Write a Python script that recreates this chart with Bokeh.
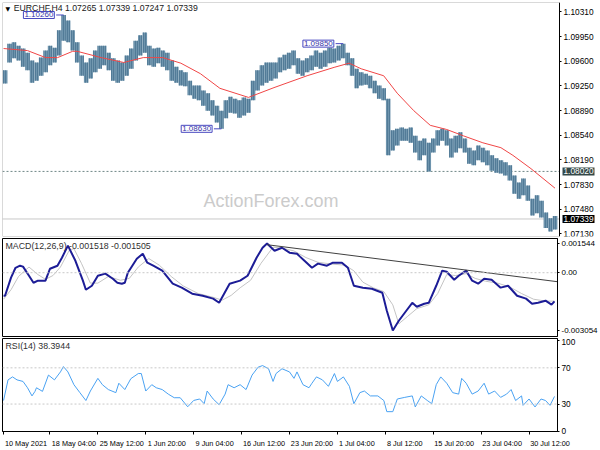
from bokeh.plotting import figure
from bokeh.models import Range1d, FixedTicker, Span, Label, BoxAnnotation
from bokeh.layouts import column
from bokeh.embed import file_html
from bokeh.resources import INLINE

FONT = "Liberation Sans"

# ---------------- data ----------------
# H4 price bars, each entry = high / low of 3 consecutive H4 bars
highs = [1.0947, 1.0985, 1.0987, 1.0982, 1.0978, 1.0972, 1.0961, 1.0958, 1.0965, 1.0975,
         1.0982, 1.0979, 1.1004, 1.1026, 1.1018, 1.1004, 1.0987, 1.0968, 1.0958, 1.0964,
         1.0975, 1.0982, 1.0982, 1.0972, 1.0964, 1.0961, 1.0958, 1.0968, 1.0978, 1.0989,
         1.0997, 1.1001, 1.0982, 1.0978, 1.0979, 1.0975, 1.0972, 1.0961, 1.0952, 1.0947,
         1.0944, 1.0932, 1.0925, 1.0925, 1.0918, 1.0914, 1.0904, 1.0896, 1.0889, 1.0904,
         1.0909, 1.0906, 1.0904, 1.0908, 1.0906, 1.0932, 1.0947, 1.0954, 1.0958, 1.0958,
         1.0958, 1.0965, 1.0969, 1.0972, 1.0975, 1.0964, 1.0961, 1.0964, 1.0968, 1.0975,
         1.0972, 1.0975, 1.0979, 1.0978, 1.0982, 1.0985, 1.0972, 1.0964, 1.0949, 1.0944,
         1.0942, 1.0939, 1.0932, 1.0925, 1.0921, 1.0906, 1.0861, 1.0863, 1.0865, 1.0863,
         1.0865, 1.0853, 1.0846, 1.0849, 1.0843, 1.0849, 1.0861, 1.0863, 1.0861, 1.0849,
         1.0853, 1.0858, 1.0849, 1.0836, 1.0832, 1.0839, 1.0836, 1.0832, 1.0825, 1.0821,
         1.0818, 1.0815, 1.0811, 1.0796, 1.0786, 1.0792, 1.0782, 1.0763, 1.0768, 1.0760,
         1.0743, 1.0735, 1.0738]
lows = [1.0928, 1.0958, 1.0964, 1.0961, 1.0952, 1.0947, 1.0929, 1.0932, 1.0939, 1.0944,
        1.0954, 1.0958, 1.0968, 1.0989, 1.0987, 1.0975, 1.0958, 1.0939, 1.0929, 1.0935,
        1.0944, 1.0949, 1.0954, 1.0947, 1.0932, 1.0929, 1.0932, 1.0939, 1.0949, 1.0961,
        1.0968, 1.0972, 1.0954, 1.0952, 1.0957, 1.0952, 1.0947, 1.0932, 1.0929, 1.0925,
        1.0924, 1.0911, 1.0906, 1.0904, 1.0896, 1.0889, 1.0882, 1.0872, 1.0863, 1.0878,
        1.0886, 1.0885, 1.0879, 1.0882, 1.0886, 1.0904, 1.0918, 1.0925, 1.0929, 1.0932,
        1.0935, 1.0944, 1.0947, 1.0949, 1.0954, 1.0942, 1.0939, 1.0944, 1.0947, 1.0952,
        1.0949, 1.0952, 1.0957, 1.0958, 1.0961, 1.0964, 1.0954, 1.0939, 1.0921, 1.0925,
        1.0926, 1.0921, 1.0914, 1.0906, 1.0904, 1.0825, 1.0832, 1.0839, 1.0846, 1.0846,
        1.0843, 1.0829, 1.0818, 1.0825, 1.0802, 1.0829, 1.0839, 1.0846, 1.0839, 1.0822,
        1.0829, 1.0835, 1.0829, 1.0813, 1.0811, 1.0818, 1.0815, 1.0811, 1.0803, 1.0800,
        1.0799, 1.0796, 1.0789, 1.0770, 1.0763, 1.0768, 1.0760, 1.0739, 1.0742, 1.0736,
        1.0721, 1.0716, 1.0719]
bar_idx = [3 * g + 1 for g in range(len(highs))]

# moving average (red)
ma_idx = [0, 16, 28, 36, 46, 49, 65, 80, 93, 106,
          118, 131, 144, 163, 180, 202, 220, 230, 238, 253,
          262, 273, 284, 295, 306, 319, 331, 339, 351, 367]
ma_val = [1.0978, 1.0975, 1.0965, 1.0965, 1.0974, 1.0974, 1.0965, 1.0958, 1.0965, 1.0965,
          1.0957, 1.0942, 1.0921, 1.0908, 1.0922, 1.0939, 1.0951, 1.0957, 1.0949, 1.0939,
          1.0914, 1.0889, 1.0868, 1.0862, 1.0853, 1.0843, 1.0836, 1.0825, 1.0806, 1.0778]

# MACD(12,26,9)
macd_idx = [0, 1, 5, 8, 11, 13, 17, 20, 23, 28,
            31, 36, 39, 43, 48, 53, 55, 59, 63, 68,
            73, 76, 79, 81, 83, 89, 93, 96, 100, 106,
            113, 119, 126, 133, 140, 144, 151, 158, 163, 169,
            173, 176, 181, 186, 191, 196, 198, 201, 206, 210,
            216, 220, 226, 230, 234, 240, 246, 253, 256, 260,
            264, 269, 273, 276, 281, 284, 289, 293, 296, 301,
            304, 309, 313, 317, 321, 326, 332, 337, 343, 349,
            353, 357, 362, 366, 368]
macd_val = [-0.00122, -0.00122, -0.00026, 0.00026, 0.00037, 0.00032, -0.00016, -0.00053, -0.00042, -0.00042,
            0.00021, 0.00037, 0.00079, 0.00143, 0.00063, -0.00042, -0.00090, -0.00069, -0.00016, -0.00005,
            -0.00032, -0.00053, -0.00058, -0.00053, 0.0, 0.00074, 0.00100, 0.00053, 0.00037, 0.00011,
            -0.00058, -0.00079, -0.00111, -0.00122, -0.00137, -0.00159, -0.00058, -0.00042, -0.00016, 0.00079,
            0.00132, 0.001544, 0.00116, 0.00132, 0.00106, 0.00100, 0.00085, 0.00063, 0.00026, 0.00048,
            0.00037, 0.00053, 0.00053, 0.00026, -0.00069, -0.00079, -0.00085, -0.00106, -0.00201, -0.003054,
            -0.00254, -0.00201, -0.00159, -0.00180, -0.00164, -0.00159, -0.00069, 0.00011, 0.00005, -0.00037,
            -0.00016, 0.00011, -0.00042, -0.00058, -0.00032, -0.00037, -0.00079, -0.00069, -0.00122, -0.00137,
            -0.00164, -0.00159, -0.00148, -0.00169, -0.001518]
sig_idx = [0, 5, 10, 17, 23, 28, 33, 38, 44, 47,
           52, 58, 63, 70, 78, 84, 90, 97, 104, 112,
           120, 130, 140, 146, 152, 158, 165, 172, 180, 186,
           194, 202, 210, 220, 228, 234, 240, 247, 254, 260,
           264, 270, 276, 284, 290, 296, 302, 309, 315, 322,
           330, 338, 346, 354, 362, 368]
sig_val = [-0.0014, -0.0009, -0.0002, 0.0003, -0.0001, -0.00035, -0.00015, 0.0003, 0.0012, 0.00127,
           0.0005, -0.00055, -0.00055, -0.0002, -0.0004, -0.0003, 0.0003, 0.00075, 0.0004, -0.0002,
           -0.0007, -0.0011, -0.0013, -0.00145, -0.0012, -0.0008, -0.0004, 0.0005, 0.00135, 0.0013,
           0.00115, 0.0008, 0.00055, 0.00045, 0.0004, 0.0001, -0.0005, -0.0008, -0.001, -0.0017,
           -0.0027, -0.0023, -0.0019, -0.0017, -0.0011, -0.0001, -0.00015, -0.00005, -0.0003, -0.00045,
           -0.00055, -0.00075, -0.0011, -0.0014, -0.0015, -0.001505]
trend_idx = [176, 370]
trend_val = [0.00148, -0.000476]

# RSI(14)
rsi_idx = [0, 3, 6, 9, 13, 16, 19, 21, 22, 26,
           30, 34, 38, 40, 43, 47, 51, 55, 58, 63,
           66, 70, 75, 77, 81, 85, 90, 92, 95, 99,
           102, 106, 110, 114, 118, 123, 127, 131, 134, 136,
           140, 144, 148, 150, 154, 158, 162, 166, 170, 173,
           177, 180, 182, 186, 191, 194, 196, 200, 204, 206,
           209, 213, 217, 221, 223, 227, 231, 234, 238, 241,
           245, 250, 254, 256, 260, 263, 268, 273, 275, 279,
           283, 286, 289, 292, 296, 300, 304, 306, 309, 313,
           317, 321, 324, 328, 332, 336, 339, 342, 346, 347,
           351, 355, 359, 362, 365, 368]
rsi_val = [33.9, 56.7, 60, 56.7, 55, 48, 39, 44, 48, 44,
           62, 56.7, 65.5, 71.4, 65.5, 51.4, 42.6, 33.9, 44.4, 58.4,
           51.4, 46, 42.6, 53, 46, 58, 63.7, 63.7, 44.4, 51.4,
           48, 46, 41, 37, 37, 27, 34, 35.6, 30.4, 44.4,
           35.6, 29.3, 41, 51.4, 48, 51.4, 46, 62, 70.7, 72.5,
           69, 55, 63.7, 69, 65.5, 58.4, 65.5, 51.4, 48, 53,
           60, 56.7, 49.6, 63.7, 55, 60, 49.6, 30.4, 42.6, 44.4,
           39, 39, 33.9, 21.6, 21.6, 35.6, 37.4, 39, 26.8, 39,
           34, 30.4, 51.4, 60, 53, 42.6, 41, 58.4, 53, 41,
           44.4, 53, 41, 44.4, 37.4, 41, 46, 33.9, 39, 28.6,
           35.6, 26.8, 35.6, 33.9, 28.6, 38.39]

price_ticks = [1.10310, 1.09950, 1.09600, 1.09250, 1.08890, 1.08540, 1.08190, 1.07830, 1.07480, 1.07130]
macd_ticks = [0.001544, 0.0, -0.003054]
macd_tick_labels = ["0.001544", "0.00", "-0.003054"]
rsi_ticks = [0, 30, 70, 100]
time_idx = [0, 31, 63, 95, 127, 159, 191, 223, 255, 287, 319, 351]
time_labels = ["10 May 2021", "18 May 04:00", "25 May 12:00", "1 Jun 20:00", "9 Jun 04:00",
               "16 Jun 12:00", "23 Jun 20:00", "1 Jul 04:00", "8 Jul 12:00", "15 Jul 20:00",
               "23 Jul 04:00", "30 Jul 12:00"]
swing_idx = [40, 145, 226]
swing_val = [1.10260, 1.08630, 1.09850]
support_level = 1.08020
last_price = 1.07339
title_txt = "EURCHF,H4 1.07265 1.07339 1.07247 1.07339"
macd_txt = "MACD(12,26,9) -0.001518 -0.001505"
rsi_txt = "RSI(14) 38.3944"

# ---------------- layout ----------------
W = 600
LB = 2
RB = 41
X0, X1 = -0.7, 370.0
xr = Range1d(X0, X1)
FW = W - LB - RB
px_idx = FW / (X1 - X0)

BAR_LIGHT = "#6E94AD"
BAR_DARK = "#3F6B88"


def style(p, size="8px"):
    p.outline_line_color = "black"
    p.outline_line_width = 1
    p.xgrid.visible = False
    p.ygrid.visible = False
    p.background_fill_color = "white"
    p.border_fill_color = "white"
    ax = p.yaxis[0]
    ax.major_label_text_font = FONT
    ax.major_label_text_font_size = size
    ax.major_label_text_color = "black"
    ax.axis_line_color = "black"
    ax.major_tick_line_color = "black"
    ax.major_tick_out = 2
    ax.major_tick_in = 0
    ax.minor_tick_line_color = None
    ax.major_label_standoff = 2


common = dict(toolbar_location=None, output_backend="svg",
              y_axis_location="right", min_border_left=LB)

# ---- price panel: its frame runs under the price scale (axis pinned at X1);
#      the scale's own reserved strip falls outside the 600px clip of the layout
py_top, py_bot = 1.10439, 1.07088
P1_FH = 234
P1_FW = W - LB
p1 = figure(frame_width=P1_FW, frame_height=P1_FH,
            x_range=Range1d(X0, X0 + P1_FW / px_idx),
            y_range=Range1d(py_bot, py_top), x_axis_location=None,
            min_border_top=2, min_border_bottom=2, min_border_right=0, **common)
style(p1, "8.3px")
p1.outline_line_color = None
p1.yaxis.fixed_location = X1
p1.yaxis.ticker = FixedTicker(ticks=price_ticks)
p1.yaxis.major_label_overrides = {t: f"{t:.5f}" for t in price_ticks}
ppx = (py_top - py_bot) / P1_FH
p1.add_layout(BoxAnnotation(left=X0, right=X1, bottom=py_bot, top=py_top, fill_color=None,
                            line_color="black", line_width=1))

p1.add_layout(Label(x=(203 - 3) / 1.503, y=1.07603, text="ActionForex.com", text_font=FONT,
                    text_font_size="18px", text_color="#CBCBCB", text_baseline="middle"))

p1.segment(x0=[X0], y0=[support_level], x1=[X1], y1=[support_level], line_color="#6F8787",
           line_dash="2 2", line_width=1)
p1.segment(x0=[X0], y0=[last_price], x1=[X1], y1=[last_price], line_color="#C8C8C8",
           line_width=1)

p1.vbar(x=bar_idx, bottom=lows, top=highs, width=3.0, fill_color=BAR_LIGHT, line_color=None,
        hatch_pattern="|", hatch_color=BAR_DARK, hatch_scale=2.0, hatch_weight=1.2)
p1.line(ma_idx, ma_val, line_color="#F04646", line_width=1)

for i, v in zip(swing_idx, swing_val):
    right = i - 5.0
    p1.segment(x0=[right], y0=[v], x1=[i], y1=[v], line_color="#4848C0", line_width=1)
    p1.add_layout(Label(x=right - 1.2, y=v, text=f"{v:.5f}", text_align="right",
                        text_baseline="middle", text_font=FONT, text_font_size="8px",
                        text_color="#3434A8", background_fill_color="white",
                        border_line_color="#4848C0", border_line_width=1, padding=1))

p1.add_layout(Label(x=1.3, y=py_top - 5.5 * ppx, text="\u25bc", text_font="DejaVu Sans",
                    text_font_size="6px", text_color="black", text_baseline="middle"))
p1.add_layout(Label(x=6.8, y=py_top - 5.5 * ppx, text=title_txt, text_font=FONT,
                    text_font_size="8.7px", text_color="#202020", text_baseline="middle"))

# value boxes on the price scale
for v, bg in [(support_level, "#344848"), (last_price, "black")]:
    p1.add_layout(Label(x=X1 + 2.0, y=v, text=f"{v:.5f}", text_align="left",
                        text_baseline="middle", text_font=FONT, text_font_size="8.3px",
                        text_color="white", background_fill_color=bg, padding=1))

# ---- MACD panel
m_top, m_bot = 0.001808, -0.003372
p2 = figure(width=W, height=100, x_range=xr, y_range=Range1d(m_bot, m_top), x_axis_location=None,
            min_border_top=0, min_border_bottom=2, min_border_right=RB, **common)
style(p2, "8px")
p2.yaxis.ticker = FixedTicker(ticks=macd_ticks)
p2.yaxis.major_label_overrides = dict(zip(macd_ticks, macd_tick_labels))
p2.add_layout(Span(location=0.0, dimension="width", line_color="#C8C8C8", line_dash="2 2"))
p2.line(sig_idx, sig_val, line_color="#C4C4C4", line_width=1)
p2.line(macd_idx, macd_val, line_color="#1C1C96", line_width=2)
p2.line(trend_idx, trend_val, line_color="#404040", line_width=1)
p2.add_layout(Label(x=1.3, y=m_top - 7 * (m_top - m_bot) / 98.0, text=macd_txt,
                    text_font=FONT, text_font_size="8.8px", text_color="#303030",
                    text_baseline="middle"))

# ---- RSI panel
p3 = figure(width=W, height=112, x_range=xr, y_range=Range1d(-0.3, 102.4), x_axis_location="below",
            min_border_top=0, min_border_bottom=17, min_border_right=RB, **common)
style(p3, "8.3px")
p3.yaxis.ticker = FixedTicker(ticks=rsi_ticks)
p3.yaxis.major_label_overrides = {t: str(t) for t in rsi_ticks}
for lv in (70, 30):
    p3.add_layout(Span(location=lv, dimension="width", line_color="#C8C8C8", line_dash="2 2"))
p3.line(rsi_idx, rsi_val, line_color="#4AA2F2", line_width=1)
p3.add_layout(Label(x=1.3, y=94, text=rsi_txt, text_font=FONT, text_font_size="8.8px",
                    text_color="#303030", text_baseline="middle"))

# time axis: labels sit to the right of their tick (MetaTrader style)
CW = {" ": .278, ":": .278, "M": .833, "J": .5, "a": .556, "y": .5, "u": .556, "n": .556, "l": .222}
TFS = 7.3


def text_w(s, size):
    return sum(CW.get(c, .556) for c in s) * size


centers = [int(round(t + (text_w(s, TFS) / 2 + 1.5) / px_idx)) for t, s in zip(time_idx, time_labels)]
xa = p3.xaxis[0]
xa.ticker = FixedTicker(ticks=centers, minor_ticks=time_idx)
xa.major_label_overrides = dict(zip(centers, time_labels))
xa.major_tick_line_color = None
xa.minor_tick_line_color = "black"
xa.minor_tick_out = 3
xa.minor_tick_in = 0
xa.axis_line_color = "black"
xa.major_label_text_font = FONT
xa.major_label_text_font_size = f"{TFS}px"
xa.major_label_text_color = "black"
xa.major_label_standoff = 1

layout = column(p1, p2, p3, width=W, height=450, styles={"overflow": "hidden"})
open("out.html", "w").write(file_html(layout, INLINE))
